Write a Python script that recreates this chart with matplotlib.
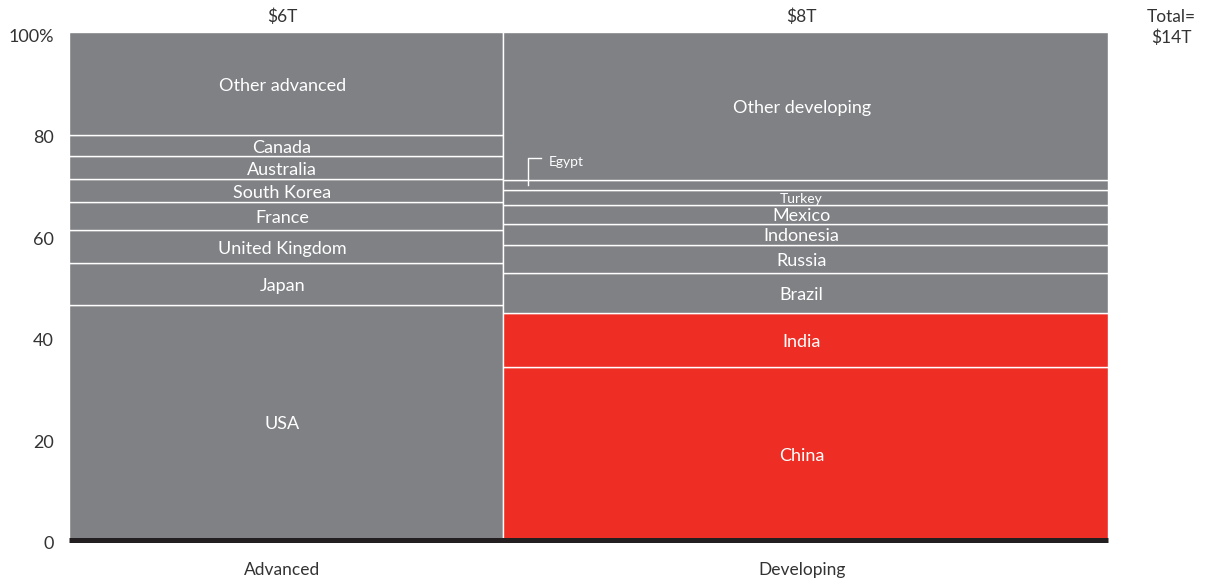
import matplotlib
matplotlib.use("Agg")
import matplotlib.pyplot as plt
import matplotlib.transforms as mtransforms
import numpy as np

# column data (widths in $T, labels as printed)
col_names = ["Advanced", "Developing"]
col_totals = [5.85, 8.15]
col_labels = ["$6T", "$8T"]
total_label = "Total=\n$14T"

adv_countries = ["USA", "Japan", "United Kingdom", "France", "South Korea",
                 "Australia", "Canada", "Other advanced"]
adv_shares = [46.3, 8.2, 6.5, 5.6, 4.5, 4.5, 4.1, 20.3]

dev_countries = ["China", "India", "Brazil", "Russia", "Indonesia", "Mexico",
                 "Turkey", "Egypt", "Other developing"]
dev_shares = [34.0, 10.8, 7.9, 5.5, 4.1, 3.8, 2.9, 2.0, 29.0]

highlight = {"China", "India"}

GRAY = "#808185"
RED = "#EE2E24"
TEXT = "#333333"

plt.rcParams["font.family"] = ["Lato", "DejaVu Sans"]

fig = plt.figure(figsize=(12.05, 5.83), dpi=100)
ax = fig.add_axes([0.0573, 0.0738, 0.8622, 0.8705])

# nudge for in-bar labels (a few px left/down, as in the original)
nudge = ax.transData + mtransforms.ScaledTranslation(-4 / 100, -2 / 100, fig.dpi_scale_trans)

columns = [(adv_countries, adv_shares), (dev_countries, dev_shares)]
lefts = np.concatenate([[0], np.cumsum(col_totals)[:-1]])

small = {"Turkey": 10, "Egypt": 10}

for left, width, (names, shares) in zip(lefts, col_totals, columns):
    bottoms = np.concatenate([[0], np.cumsum(shares)[:-1]])
    colors = [RED if n in highlight else GRAY for n in names]
    ax.bar(np.full(len(shares), left), shares, width=width, bottom=bottoms,
           align="edge", color=colors, edgecolor="white", linewidth=1.0)
    cx = left + width / 2
    for n, s, b in zip(names, shares, bottoms):
        if n == "Egypt":
            mid = b + s / 2
            x0 = left + 0.34
            ax.plot([x0, x0, x0 + 0.17], [mid, mid + 5.2, mid + 5.2],
                    color="white", lw=1.0)
            ax.text(x0 + 0.27, mid + 4.4, n, color="white", fontsize=10,
                    ha="left", va="center")
            continue
        ax.text(cx, b + s / 2, n, color="white", transform=nudge,
                fontsize=small.get(n, 13), ha="center", va="center")

for left, width, lab, name in zip(lefts, col_totals, col_labels, col_names):
    cx = left + width / 2
    ax.text(cx, 103.5, lab, color=TEXT, fontsize=12.5, ha="center", va="center",
            transform=nudge)
    ax.text(cx, -5.5, name, color=TEXT, fontsize=12.5, ha="center", va="center",
            transform=nudge)

ax.text(sum(col_totals) + 0.85, 101.0, total_label, color=TEXT, fontsize=12.5,
        ha="center", va="center", linespacing=1.3)

ax.axhline(0, color="#231f20", lw=3.6, clip_on=False, zorder=5,
           solid_capstyle="butt")

ax.set_xlim(0, sum(col_totals))
ax.set_ylim(0, 100)
ax.set_yticks([0, 20, 40, 60, 80, 100])
ax.set_yticklabels(["0", "20", "40", "60", "80", "100%"], color=TEXT, fontsize=13)
ax.tick_params(axis="y", length=0, pad=11)
for t in ax.get_yticklabels():
    t.set_transform(t.get_transform() + mtransforms.ScaledTranslation(0, -3 / 100, fig.dpi_scale_trans))
ax.set_xticks([])
for sp in ax.spines.values():
    sp.set_visible(False)

fig.savefig("out.png", dpi=100)
